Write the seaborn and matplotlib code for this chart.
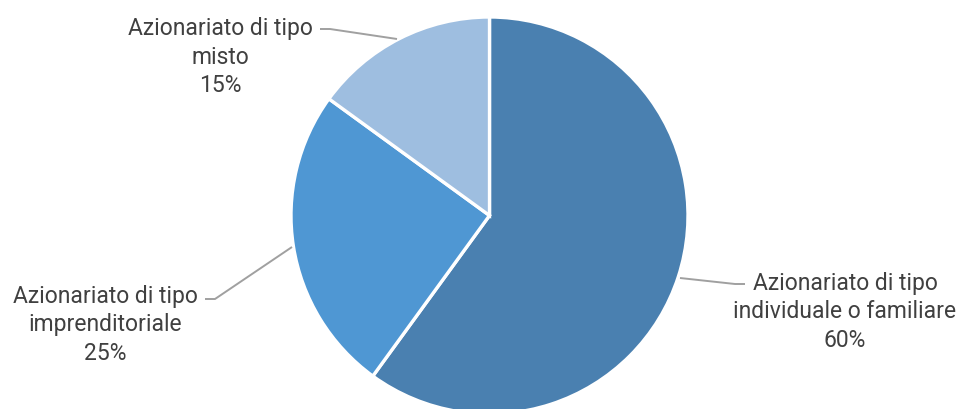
import matplotlib
matplotlib.use("Agg")
import matplotlib.pyplot as plt
import seaborn as sns

sns.set_theme(style="white")
plt.rcParams["font.family"] = ["Roboto", "DejaVu Sans"]

categories = [
    "Azionariato di tipo\nindividuale o familiare",
    "Azionariato di tipo\nimprenditoriale",
    "Azionariato di tipo\nmisto",
]
shares = [60, 25, 15]
colors = ["#4A80B0", "#4F97D3", "#9EBEE0"]

W, H = 964, 410
fig = plt.figure(figsize=(W / 100, H / 100), dpi=100)
ax = fig.add_axes([0, 0, 1, 1])

cx, cy, r = 489.5, H - 216.5, 198.5
ax.pie(shares, colors=colors, startangle=90, counterclock=False,
       center=(cx, cy), radius=r, frame=True,
       wedgeprops=dict(edgecolor="white", linewidth=2.4))
ax.set_xlim(0, W)
ax.set_ylim(0, H)
ax.set_aspect("equal")
ax.axis("off")

text_col = "#404040"
line_col = "#A0A0A0"

# label positions (centre of text block, pixel coordinates from top) and leader lines
label_pos = [(845, 312), (105, 325), (220, 57)]
leaders = [
    [(680, 279), (735, 285), (745, 285)],
    [(292, 248), (215, 300), (205, 300)],
    [(397, 40), (330, 30), (320, 30)],
]
for cat, val, (lx, ly), pts in zip(categories, shares, label_pos, leaders):
    ax.text(lx, H - ly, f"{cat}\n{val}%", ha="center", va="center",
            fontsize=16.5, color=text_col, linespacing=1.3)
    xs = [p[0] for p in pts]
    ys = [H - p[1] for p in pts]
    ax.plot(xs, ys, color=line_col, lw=1.4, solid_capstyle="butt")

fig.savefig("out.png", dpi=100, facecolor="white")
